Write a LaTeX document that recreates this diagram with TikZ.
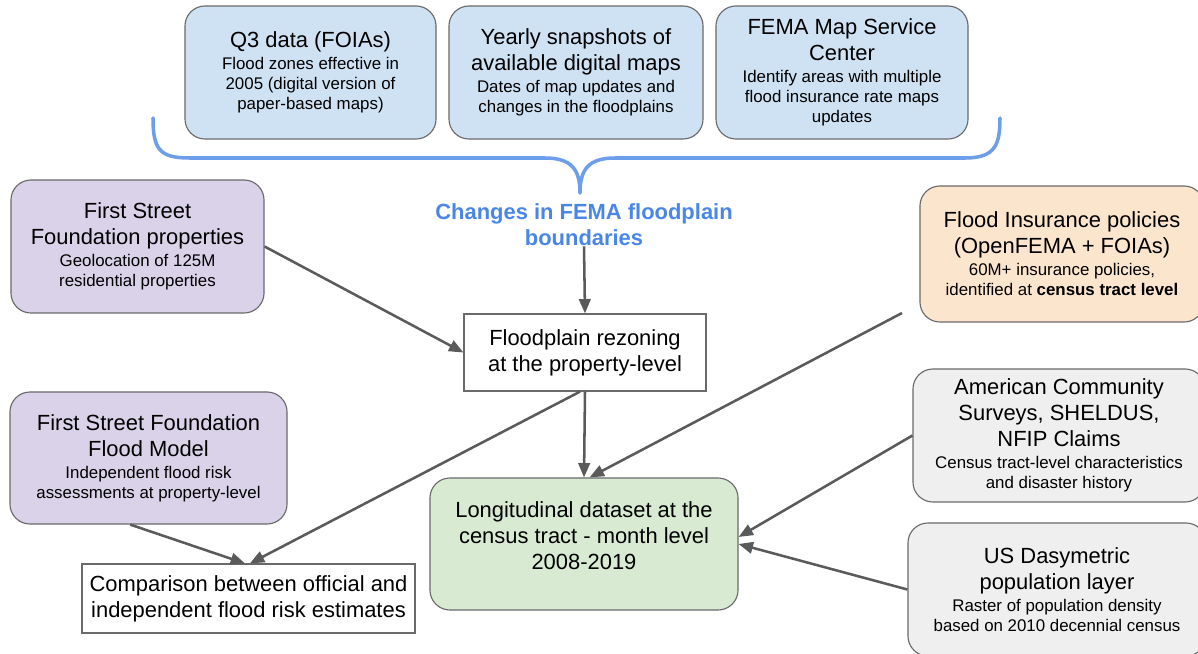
\documentclass[tikz,border=0pt]{standalone}
\usepackage{fontspec}
\setmainfont{Liberation Sans}
\usetikzlibrary{arrows.meta}
\definecolor{fillblue}{HTML}{CFE2F3}
\definecolor{fillpurple}{HTML}{D9D2E9}
\definecolor{fillorange}{HTML}{FCE5CD}
\definecolor{fillgreen}{HTML}{D9EAD3}
\definecolor{fillgray}{HTML}{EFEFEF}
\definecolor{edgegray}{HTML}{6A6A6A}
\definecolor{arrowgray}{HTML}{5A5A5A}
\definecolor{bracecol}{HTML}{6D9EEB}
\definecolor{labelblue}{HTML}{4A86E8}
\newcommand{\boxtitle}{\fontsize{15.6}{18.4}\selectfont}
\newcommand{\boxnote}{\vspace{1.5pt}\fontsize{12}{14.2}\selectfont}
\tikzset{
  srcbox/.style={draw=edgegray, line width=0.8pt, rounded corners=0.5cm, align=flush center,
    inner xsep=0.15cm, inner ysep=2pt, font=\boxtitle},
  plainbox/.style={draw=edgegray, line width=0.8pt, fill=white, align=center, font=\boxtitle},
  link/.style={arrowgray, line width=1.8pt, -{Triangle[length=3.6mm,width=2.9mm]}}
}

\begin{document}
\begin{tikzpicture}[x=0.025cm,y=-0.025cm]
  \useasboundingbox (0,0) rectangle (1198,653);
  % map sources on top
  \node[srcbox,fill=fillblue,text width=5.975cm,minimum height=3.325cm] (q3) at(310.5,72.5)
    {Q3 data (FOIAs)\par\boxnote Flood zones effective in\\2005 (digital version of\\paper-based maps)\par};
  \node[srcbox,fill=fillblue,text width=6.05cm,minimum height=3.325cm] (yearly) at(576,72.5)
    {Yearly snapshots of\\available digital maps\par\boxnote Dates of map updates and\\changes in the floodplains\par};
  \node[srcbox,fill=fillblue,text width=6cm,minimum height=3.325cm] (msc) at(842,72.5)
    {FEMA Map Service\\Center\par\boxnote Identify areas with multiple\\flood insurance rate maps\\updates\par};
  % brace under the map sources
  \draw[bracecol,line width=2.5pt,line cap=round,line join=round]
    (153,118) .. controls (153,150) and (160,158) .. (190,158) -- (545,158)
    .. controls (572,158) and (580,170) .. (580,193)
    .. controls (580,170) and (588,158) .. (615,158) -- (965,158)
    .. controls (995,158) and (1000,145) .. (1000,118);
  \node[font=\bfseries\boxtitle,text=labelblue,align=center,inner sep=0pt] (changes) at(584,225)
    {Changes in FEMA floodplain\\boundaries};
  % left side
  \node[srcbox,fill=fillpurple,text width=6.025cm,minimum height=3.325cm] (props) at(137.5,246.5)
    {First Street\\Foundation properties\par\boxnote Geolocation of 125M\\residential properties\par};
  \node[srcbox,fill=fillpurple,text width=6.625cm,minimum height=3.3cm] (model) at(148.5,458)
    {First Street Foundation\\Flood Model\par\boxnote Independent flood risk\\assessments at property-level\par};
  % right side
  \node[srcbox,fill=fillorange,text width=6.8cm,minimum height=3.4cm] (policies) at(1062,254)
    {Flood Insurance policies\\(OpenFEMA + FOIAs)\par\boxnote 60M+ insurance policies,\\identified at \textbf{census tract level}\par};
  \node[srcbox,fill=fillgray,text width=7cm,minimum height=3.325cm] (acs) at(1059,435.5)
    {American Community\\Surveys, SHELDUS,\\NFIP Claims\par\boxnote Census tract-level characteristics\\and disaster history\par};
  \node[srcbox,fill=fillgray,text width=7.15cm,minimum height=3.325cm] (dasy) at(1057,589.5)
    {US Dasymetric\\population layer\par\boxnote Raster of population density\\based on 2010 decennial census\par};
  % outputs
  \node[plainbox,minimum width=6.05cm,minimum height=1.925cm] (rezone) at(585,352.5)
    {Floodplain rezoning\\at the property-level};
  \node[srcbox,fill=fillgreen,text width=7.4cm,minimum height=3.3cm] (longit) at(584,544)
    {Longitudinal dataset at the\\census tract - month level\\2008-2019\par\kern0.4cm};
  \node[plainbox,minimum width=8.325cm,minimum height=1.725cm] (compare) at(248.5,598.5)
    {Comparison between official and\\independent flood risk estimates};
  \coordinate (polstub) at(902,313);
  % arrows
  \draw[link](props.east)--(rezone.west);
  \draw[link](changes.south)--(rezone.north);
  \draw[link](rezone.south)--(longit.north);
  \draw[link]([xshift=-3.5pt]rezone.south)--([xshift=1pt]compare.north);
  \draw[link]([xshift=-13pt]model.south)--([xshift=-2.5pt]compare.north);
  \draw[link](polstub)--([xshift=4pt]longit.north);
  \draw[link](acs.west)--([yshift=5pt]longit.east);
  \draw[link](dasy.west)--(longit.east);
\end{tikzpicture}
\end{document}
